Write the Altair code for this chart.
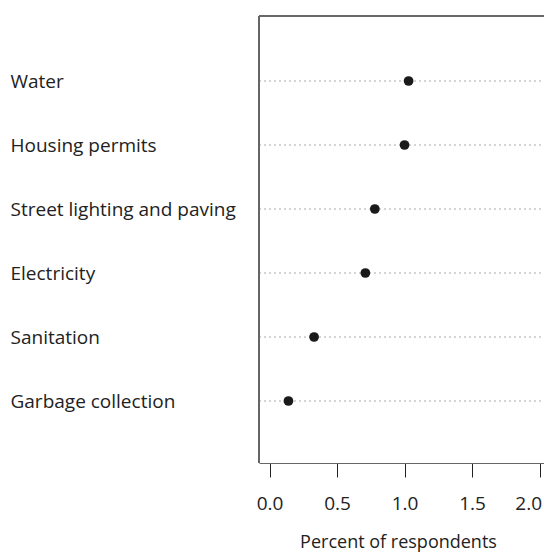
import altair as alt
import pandas as pd

# Share of respondents naming each service
services = [
    "Water",
    "Housing permits",
    "Street lighting and paving",
    "Electricity",
    "Sanitation",
    "Garbage collection",
]
percent = [1.03, 1.00, 0.78, 0.71, 0.33, 0.14]
x_ticks = [0.0, 0.5, 1.0, 1.5, 2.0]

df = pd.DataFrame({"service": services, "percent": percent})

FONT = "Open Sans"
W, H = 285, 447
BOX = "#666666"

y_enc = alt.Y(
    "service:N",
    sort=services,
    scale=alt.Scale(type="point", range=[65, 385], padding=0),
    axis=alt.Axis(
        title=None,
        ticks=False,
        grid=False,
        domain=False,
        labelAlign="left",
        labelBaseline="middle",
        labelPadding=249,
        labelFont=FONT,
        labelFontSize=19,
        labelColor="#222222",
        labelLimit=300,
    ),
)

base = alt.Chart(df)

grid = base.mark_rule(color="#aaaaaa", strokeDash=[2, 3], strokeWidth=1).encode(
    y=y_enc,
    x=alt.value(0),
    x2=alt.value(W),
)

# frame: top edge and left edge of the plotting box
top_border = base.mark_rule(color=BOX, strokeWidth=1.2).encode(
    y=alt.value(0),
    x=alt.value(0),
    x2=alt.value(W),
)
left_border = base.mark_rule(color=BOX, strokeWidth=1.2).encode(
    x=alt.value(0),
    y=alt.value(0),
    y2=alt.value(H),
)

dots = base.mark_circle(size=95, color="#1a1a1a", opacity=1).encode(
    x=alt.X(
        "percent:Q",
        scale=alt.Scale(domain=[-0.078, 2.033], nice=False, zero=False),
        axis=alt.Axis(
            title="Percent of respondents",
            values=x_ticks,
            format=".1f",
            grid=False,
            domain=True,
            domainColor=BOX,
            domainWidth=1.2,
            ticks=True,
            tickSize=14,
            tickColor="#222222",
            tickWidth=1,
            labelPadding=17,
            labelFlush=8,
            labelFlushOffset=2,
            labelFont=FONT,
            labelFontSize=19,
            labelColor="#222222",
            titleFont=FONT,
            titleFontSize=18,
            titleFontWeight="normal",
            titleColor="#222222",
            titlePadding=20,
            titleX=139,
        ),
    ),
    y=y_enc,
)

chart = (
    alt.layer(grid, top_border, left_border, dots)
    .properties(
        width=W,
        height=H,
        autosize=alt.AutoSizeParams(type="none"),
        padding={"left": 259, "top": 16, "right": 0, "bottom": 91},
        background="white",
    )
    .configure_view(strokeWidth=0)
)

chart.save("out.html", embed_options={"renderer": "svg", "actions": False})
